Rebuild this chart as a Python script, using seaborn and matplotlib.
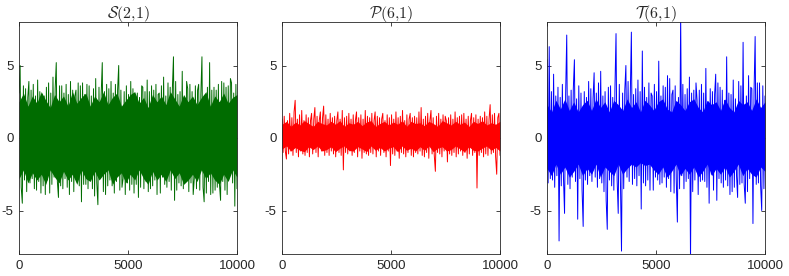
import numpy as np
import pandas as pd
import matplotlib
matplotlib.use('Agg')
import matplotlib.pyplot as plt
import seaborn as sns

sns.set_style('ticks')
plt.rcParams['font.family'] = ['Liberation Sans', 'DejaVu Sans']
plt.rcParams['mathtext.fontset'] = 'cm'
plt.rcParams['axes.unicode_minus'] = False

# strokes (200 per panel): the ragged edge and the spikes
s_vals = [3.1, 5.0, -3.4, -4.5, 3.6, -2.9, 3.4, -3.7, 2.8, 3.9, -3.1, 3.3, -2.8, 3.7, -3.5, 2.9, -3.6, 4.0, -3.0, 3.2,
          -3.8, 3.0, -3.3, 2.9, -3.9, 3.5, -2.9, 3.8, -3.8, 3.1, -3.2, 4.2, -2.7, 3.4, 5.2, -3.0, -4.1, 3.6, -3.3, 3.6,
          -3.5, 3.1, -2.8, 3.7, -3.4, 3.0, -3.9, 3.9, -3.0, 3.3, -3.7, 2.9, 3.3, -2.8, 3.8, -3.3, 3.6, -4.4, 3.8, -3.2,
          3.0, -3.2, 3.7, -3.5, 3.6, -2.9, 2.9, -3.5, 3.4, -4.0, 4.1, -3.1, -4.6, 3.5, -2.8, 3.0, 5.2, -3.7, 3.2, -3.9,
          3.7, -3.3, 3.4, -2.9, 3.9, -3.3, 3.1, -3.8, 3.7, -3.0, 3.3, 5.0, -3.6, 3.3, -3.4, -2.8, 3.2, -3.9, 3.6, -3.1,
          3.0, -3.6, 3.9, -3.2, 3.4, -3.8, 2.9, -3.2, 3.1, -4.1, 2.8, -3.4, 3.6, 3.5, -3.5, 3.2, -3.0, 4.0, -3.7, 3.2,
          -3.5, 3.6, -3.3, 3.3, -2.9, 3.7, -3.9, 3.0, 3.1, -3.8, 3.6, -2.7, 4.2, -3.2, 2.9, -3.4, 3.8, -3.0, 3.5, -3.6,
          3.4, 5.6, -4.3, 3.9, -3.6, 3.0, -3.1, 3.2, -3.3, 4.6, -3.5, 2.8, -2.9, 3.9, 3.4, -3.7, 3.7, -3.1, 3.2, -3.9,
          -2.8, 3.6, -3.5, 3.3, 3.7, -3.6, 3.0, 5.6, -3.4, -4.4, 2.9, -3.8, 3.5, -3.0, 5.2, -3.9, 3.3, -3.8, 3.5, -3.6,
          3.3, -3.4, 3.7, -3.2, -4.3, 3.9, -3.0, 3.8, -3.6, 3.5, -3.9, 3.6, -2.7, 4.1, 3.8, -3.1, 3.1, -4.7, 3.7, -3.5]

p_vals = [1.3, -1.0, 1.5, -0.9, -1.45, 1.2, -1.1, 1.7, -0.9, 1.4, -1.2, 1.8, 2.6, -1.0, 1.3, -1.3, 1.6, -0.9, 1.9, -1.1,
          1.2, -1.2, 1.6, -1.0, 1.4, -1.3, 1.2, 1.7, -1.1, 1.3, 2.1, -1.0, 1.5, -1.3, 1.2, 1.8, -0.9, 1.4, 2.2, -1.2,
          1.6, -1.0, 1.3, -1.2, 1.7, -0.9, 1.4, -1.1, 1.5, -1.3, 1.2, 1.8, -1.0, 1.3, -1.2, 1.9, -2.2, 1.4, -1.0, 1.5,
          -1.1, 1.7, -0.9, 1.3, -1.2, 1.6, -1.0, 1.2, 1.8, -1.3, 1.4, -0.9, 1.6, -1.4, 1.3, -1.0, 1.9, -1.1, 1.5, -1.2,
          1.4, -1.0, 1.7, -1.1, 1.2, 1.8, -1.3, 1.5, -0.9, 1.4, -1.2, 1.3, 1.7, -1.0, 1.2, -1.3, 1.6, -0.9, 1.4, -1.9,
          1.6, -1.1, 1.3, -1.2, 1.8, -0.9, 1.4, -1.4, 1.5, -1.0, 1.9, -1.1, 1.2, -1.3, 1.6, -1.0, 1.3, 1.7, -1.2, 1.4,
          -1.3, 1.5, -1.0, 1.4, -1.1, 1.8, -0.9, 2.1, -1.2, 1.3, -1.3, 1.5, -1.0, 1.7, -1.4, 1.2, 1.9, -1.1, 1.4, -1.2,
          -2.3, 1.5, -1.0, 1.7, -1.1, 1.3, -1.3, 1.6, -0.9, 1.5, 1.2, -1.65, 1.4, -1.1, 1.6, -1.2, 1.3, -1.0, 1.8, -1.3,
          1.4, -1.1, 1.5, -0.9, 1.6, -1.2, 1.7, -1.0, 1.3, -1.4, 1.5, -1.1, 1.2, 1.7, -1.2, 1.4, -1.0, 1.6, -3.45, 1.3,
          -1.2, 1.5, -1.0, 1.4, -1.3, 1.8, -1.1, 1.5, -1.2, 1.3, 2.3, -1.1, 1.6, -1.0, 1.7, -1.3, -2.5, 1.4, 1.7, -1.2]

t_vals = [5.4, -3.1, 6.3, -2.8, 3.2, -2.9, 4.4, -3.4, 2.9, -2.6, 3.5, -7.1, 2.8, -3.3, 3.7, -2.7, -5.2, 3.0, 7.1, -3.2,
          2.9, -3.5, 3.3, -2.7, 3.4, 5.4, -3.0, 2.7, -5.6, 3.6, -2.8, 3.1, -3.6, -6.1, 3.2, -2.9, 2.8, -3.2, 3.9, -2.6,
          3.4, -3.0, 2.7, 4.5, -2.7, 3.1, -3.4, 3.8, -2.8, 4.6, -3.1, 2.9, -3.7, 3.2, -4.3, -6.3, 3.5, -2.9, 3.6, -3.3,
          2.8, -3.6, 3.4, 7.2, -2.9, -5.2, 3.7, -3.0, -7.8, 3.1, -3.5, 3.3, 5.0, -2.7, 3.9, -3.0, 2.9, 7.3, -3.2, 3.0,
          -2.8, 3.4, -3.3, 4.0, -2.6, 3.2, -4.9, 6.0, -3.1, 3.5, -3.3, 2.8, -2.9, 3.8, -3.6, 3.1, 2.9, -3.6, 3.7, -2.7,
          3.2, -2.9, 5.3, -3.2, 2.9, -3.1, 3.6, -2.7, 3.5, -3.4, 4.3, -2.8, 4.1, -3.7, 3.0, 3.3, -3.8, 3.6, -2.9, -5.8,
          2.8, -3.5, 8.5, -2.6, 3.7, -3.5, 3.0, -3.0, 3.4, -2.8, 4.2, -8.5, 3.1, -3.7, 3.3, -2.9, 3.8, 2.6, -3.9, 3.3,
          -3.0, 3.7, -2.9, 3.1, -3.0, 4.8, -3.4, 2.5, -4.5, 3.4, -2.5, 3.2, -3.6, 3.0, 4.4, -4.3, 3.8, -2.8, 3.5, -3.1,
          3.3, -3.4, 2.6, -2.9, 5.6, -3.3, 3.1, -3.9, 3.0, -3.7, 4.0, -3.4, 2.7, -2.6, -4.1, 3.9, -3.2, 3.6, -3.1, 6.6,
          -3.2, -4.5, 2.9, -3.7, 4.3, -2.8, 3.5, 3.4, -5.9, 3.2, 7.0, -3.2, 3.8, -3.1, 3.8, -3.3, -5.0, 3.6, -3.5, 2.9]

# dense core of each trace (upper / lower edge of the solid band), 50 points each
s_upper = [2.5, 3.1, 2.2, 2.9, 2.4, 3.2, 2.6, 2.1, 3.0, 2.5, 2.9, 2.2, 3.2, 2.4, 2.8, 3.1, 2.2, 2.9, 2.5, 3.2,
           2.3, 2.8, 3.1, 2.2, 2.6, 3.0, 3.2, 2.4, 2.8, 2.1, 3.0, 2.5, 2.9, 2.3, 3.2, 2.7, 2.2, 3.0, 2.5, 2.9,
           2.3, 2.8, 3.2, 2.2, 2.9, 2.5, 3.1, 2.4, 2.8, 3.0]
s_lower = [-2.8, -2.2, -3.1, -2.4, -2.9, -2.5, -3.2, -2.2, -2.7, -3.1, -2.3, -2.9, -2.5, -3.2, -2.2, -2.8, -3.0, -2.3, -2.9, -2.5,
           -2.2, -3.2, -2.7, -2.4, -3.1, -2.5, -2.9, -2.2, -2.8, -3.2, -2.3, -2.9, -2.5, -3.0, -2.2, -2.8, -2.4, -3.2, -2.9, -2.5,
           -3.0, -2.2, -2.8, -2.4, -2.9, -3.2, -2.5, -3.0, -2.2, -2.7]
p_upper = [0.95, 1.15, 0.8, 1.1, 0.9, 1.2, 1.0, 0.8, 1.15, 1.0, 0.9, 1.15, 0.95, 1.2, 0.8, 1.05, 0.95, 1.15, 0.85, 1.1,
           1.2, 0.8, 1.0, 1.15, 0.9, 1.1, 0.95, 1.2, 0.8, 1.15, 1.0, 1.05, 0.85, 1.15, 1.0, 0.8, 1.2, 1.05, 0.9, 1.15,
           0.95, 1.1, 0.8, 1.15, 1.0, 1.2, 0.9, 1.05, 0.95, 1.15]
p_lower = [-0.75, -0.55, -0.9, -0.65, -0.85, -0.95, -0.6, -0.8, -0.55, -0.9, -0.8, -0.6, -0.95, -0.7, -0.55, -0.85, -0.9,
           -0.6, -0.75, -0.95, -0.55, -0.85, -0.65, -0.9, -0.7, -0.6, -0.95, -0.55, -0.85, -0.7, -0.9, -0.6, -0.85, -0.55,
           -0.95, -0.7, -0.6, -0.9, -0.8, -0.55, -0.75, -0.95, -0.6, -0.85, -0.9, -0.7, -0.55, -0.85, -0.65, -0.9]
t_upper = [2.3, 1.8, 2.6, 2.0, 2.7, 1.9, 2.5, 1.8, 2.3, 2.6, 1.9, 2.7, 2.1, 2.5, 1.8, 2.6, 2.3, 1.9, 2.7, 2.1,
           2.5, 1.8, 2.6, 2.3, 1.9, 2.5, 2.7, 2.0, 1.8, 2.6, 2.3, 1.9, 2.5, 2.7, 2.1, 1.8, 2.6, 2.3, 2.5, 1.9,
           2.7, 2.1, 1.8, 2.6, 2.3, 2.5, 1.9, 2.7, 2.1, 2.5]
t_lower = [-2.1, -2.6, -1.8, -2.5, -2.0, -2.7, -2.3, -1.8, -2.6, -2.1, -2.5, -1.8, -2.7, -2.0, -2.3, -2.6, -1.8, -2.5, -2.1, -1.8,
           -2.0, -1.7, -1.9, -1.8, -2.2, -2.5, -2.0, -2.7, -2.3, -1.8, -2.6, -2.1, -2.5, -2.0, -2.7, -2.3, -1.8, -2.6, -2.1, -2.5,
           -2.0, -2.7, -2.3, -1.8, -2.6, -2.1, -2.5, -2.7, -2.0, -2.3]

titles = [r'$\mathcal{S}(2{,}1)$', r'$\mathcal{P}(6{,}1)$', r'$\mathcal{T}(6{,}1)$']
colors = ['#006c00', '#ff0000', '#0000ff']
n_samples = 10000

series = [(s_vals, s_upper, s_lower), (p_vals, p_upper, p_lower), (t_vals, t_upper, t_lower)]

fig = plt.figure(figsize=(7.89, 2.76), dpi=100)
lefts = [19/789, 282/789, 547/789]

for k, (vals, up, lo) in enumerate(series):
    ax = fig.add_axes([lefts[k], 22/276, 218/789, 232/276])
    nb = np.linspace(1, n_samples, len(up))
    ax.fill_between(nb, lo, up, color=colors[k], linewidth=0)
    df = pd.DataFrame({'n': np.linspace(1, n_samples, len(vals)), 'v': vals})
    sns.lineplot(data=df, x='n', y='v', ax=ax, color=colors[k], linewidth=0.7)
    ax.set_xlim(0, n_samples)
    ax.set_ylim(-8, 8)
    ax.set_xticks([0, 5000, 10000])
    ax.set_yticks([-5, 0, 5])
    ax.set_xlabel('')
    ax.set_ylabel('')
    ax.set_title(titles[k], fontsize=11.5, pad=3)
    ax.tick_params(direction='in', top=True, right=True, labelsize=9.5,
                   length=3, width=0.6, colors='#262626', pad=4)
    for sp in ax.spines.values():
        sp.set_linewidth(0.6)
        sp.set_color('#262626')

fig.savefig('out.png', dpi=100)
